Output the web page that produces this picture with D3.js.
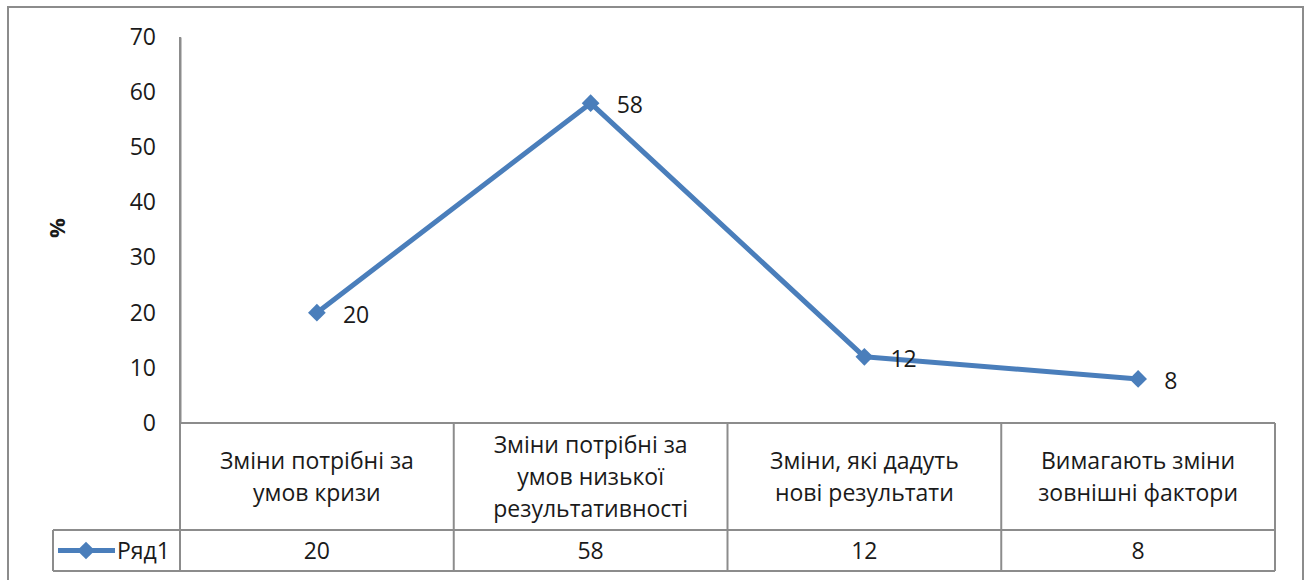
<!DOCTYPE html>
<html><head><meta charset="utf-8">
<script src="https://cdn.jsdelivr.net/npm/d3@7"></script>
<style>
html,body{margin:0;padding:0;background:#fff;}
svg text{font-family:"Open Sans","Liberation Sans",sans-serif;fill:#1a1a1a;}
</style></head>
<body><svg id="c" width="1309" height="580"></svg>
<script>
const categories = [
  ["Зміни потрібні за","умов кризи"],
  ["Зміни потрібні за","умов низької","результативності"],
  ["Зміни, які дадуть","нові результати"],
  ["Вимагають зміни","зовнішні фактори"]
];
const seriesName = "Ряд1";
const values = [20, 58, 12, 8];
const yTicks = [0,10,20,30,40,50,60,70];
const yTitle = "%";

(function(){
const svg = d3.select("#c");
const color = "#4A7EBB", gridCol = "#8c8c8c";
const L = 180, R = 1275, T = 37, base = 423;
const catBottom = 530, dataBottom = 571, legendLeft = 53;
const fs = "23px";

svg.append("rect").attr("x",8).attr("y",7).attr("width",1295).attr("height",600)
  .attr("fill","none").attr("stroke",gridCol).attr("stroke-width",2);

const y = d3.scaleLinear().domain([0,70]).range([base, T]);
const x = d3.scaleBand().domain(d3.range(categories.length)).range([L,R]).padding(0);

const yAxis = d3.axisLeft(y).tickValues(yTicks).tickSize(0).tickPadding(24);
const ya = svg.append("g").attr("transform",`translate(${L},0)`).call(yAxis);
ya.select(".domain").attr("stroke",gridCol).attr("stroke-width",2);
ya.selectAll("text").style("font-size",fs).attr("fill","#1a1a1a").style("font-family",'"Open Sans",sans-serif');

svg.append("text").attr("transform",`translate(65,228) rotate(-90)`)
  .attr("text-anchor","middle").style("font-size","22px").style("font-weight","bold").text(yTitle);

const g = svg.append("g").attr("stroke",gridCol).attr("stroke-width",2);
g.append("line").attr("x1",L).attr("x2",R).attr("y1",base).attr("y2",base);
g.append("line").attr("x1",legendLeft).attr("x2",R).attr("y1",catBottom).attr("y2",catBottom);
g.append("line").attr("x1",legendLeft).attr("x2",R).attr("y1",dataBottom).attr("y2",dataBottom);
g.append("line").attr("x1",legendLeft).attr("x2",legendLeft).attr("y1",catBottom).attr("y2",dataBottom);
const bounds = x.domain().map(i=>x(i)).concat([R]);
bounds.forEach(b=>g.append("line").attr("x1",b).attr("x2",b).attr("y1",b===L?T:base).attr("y2",dataBottom));

categories.forEach((lines,i)=>{
  const cx = x(i)+x.bandwidth()/2;
  const lh = 32, mid = (base+catBottom)/2;
  const t = svg.append("text").attr("text-anchor","middle").style("font-size",fs);
  lines.forEach((l,k)=>{
    t.append("tspan").attr("x",cx).attr("y",mid + (k-(lines.length-1)/2)*lh + 8).text(l);
  });
  svg.append("text").attr("x",cx).attr("y",(catBottom+dataBottom)/2+8).attr("text-anchor","middle")
    .style("font-size",fs).text(values[i]);
});

const px = i => x(i)+x.bandwidth()/2;
svg.append("path").datum(values)
  .attr("d", d3.line().x((d,i)=>px(i)).y(d=>y(d)))
  .attr("fill","none").attr("stroke",color).attr("stroke-width",5).attr("stroke-linejoin","round");
const sym = d3.symbol().type(d3.symbolDiamond2).size(200);
svg.selectAll(".m").data(values).join("path").attr("class","m")
  .attr("transform",(d,i)=>`translate(${px(i)},${y(d)})`).attr("d",sym).attr("fill",color);
svg.selectAll(".lbl").data(values).join("text").attr("class","lbl")
  .attr("x",(d,i)=>px(i)+26).attr("y",d=>y(d)+10).style("font-size",fs).text(d=>d);

const ly = (catBottom+dataBottom)/2;
svg.append("line").attr("x1",58).attr("x2",115).attr("y1",ly).attr("y2",ly).attr("stroke",color).attr("stroke-width",5);
svg.append("path").attr("transform",`translate(86,${ly})`).attr("d",sym).attr("fill",color);
svg.append("text").attr("x",117).attr("y",ly+8).style("font-size",fs).text(seriesName);
})();
</script></body></html>
